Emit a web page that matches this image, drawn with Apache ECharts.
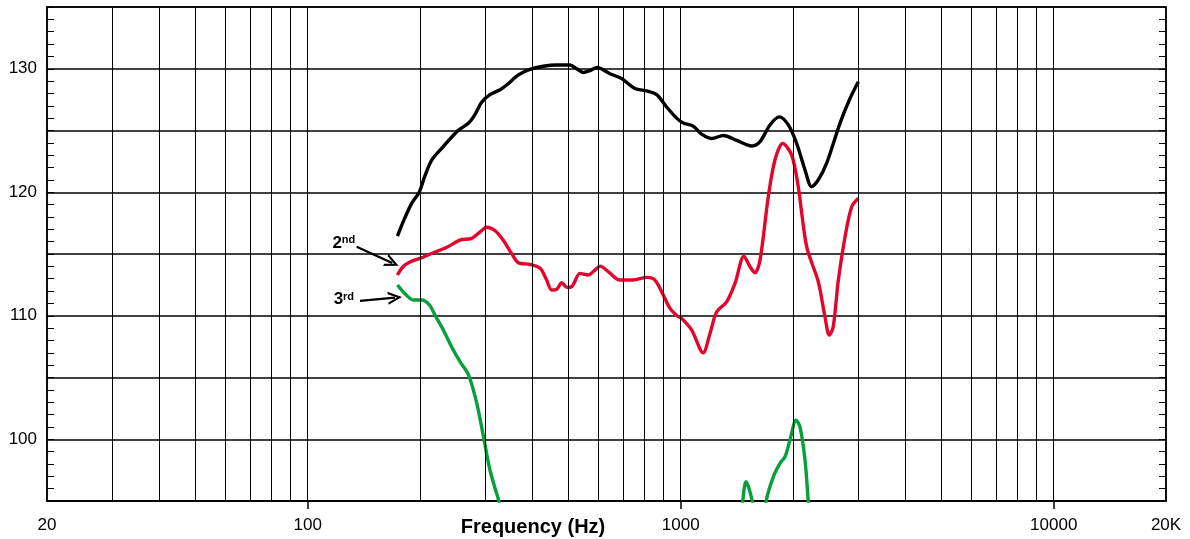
<!DOCTYPE html>
<html>
<head>
<meta charset="utf-8">
<script src="https://cdn.jsdelivr.net/npm/echarts@6/dist/echarts.min.js"></script>
<style>
html,body{margin:0;padding:0;background:#fff;}
#chart{width:1190px;height:539px;}
</style>
</head>
<body>
<div id="chart"></div>
<script>
// ---- data ----
const xTickLabels = [20, 100, 1000, 10000, 20000];
const xDecadeTicks = [100, 1000, 10000];
const xGridFreqs = [30, 40, 50, 60, 70, 80, 90, 100, 200, 300, 400, 500, 600, 700, 800, 900, 1000,
  2000, 3000, 4000, 5000, 6000, 7000, 8000, 9000, 10000];
const yTickLabels = [100, 110, 120, 130];

const fundFreq = [174, 182, 190, 199, 206, 215, 231, 253, 270, 281, 293, 308, 328, 342, 367, 394, 428, 465, 505, 526, 548, 571, 597, 646, 695, 754, 811, 862, 917, 975, 1016, 1081, 1138, 1211, 1301, 1413, 1551, 1632, 1735, 1838, 1943, 2046, 2154, 2244, 2338, 2462, 2674, 2844, 2994];
const fundDb = [116.45, 117.9, 119.1, 120.0, 121.3, 122.6, 123.7, 125.0, 125.6, 126.3, 127.3, 127.9, 128.3, 128.7, 129.5, 129.95, 130.2, 130.3, 130.3, 130.0, 129.7, 129.85, 130.1, 129.6, 129.2, 128.4, 128.2, 127.9, 126.9, 126.0, 125.6, 125.35, 124.7, 124.35, 124.6, 124.2, 123.75, 124.1, 125.45, 126.1, 125.45, 123.95, 121.8, 120.45, 121.0, 122.35, 125.6, 127.6, 128.95];

const h2Freq = [174, 180, 188, 200, 217, 236, 256, 275, 290, 302, 318, 334, 352, 367, 394, 420, 437, 451, 465, 480, 495, 510, 537, 565, 589, 608, 640, 687, 746, 811, 853, 898, 936, 985, 1006, 1070, 1149, 1198, 1249, 1328, 1398, 1478, 1534, 1582, 1632, 1717, 1789, 1877, 1984, 2066, 2176, 2338, 2436, 2502, 2564, 2646, 2758, 2874, 2994];
const h2Db = [113.3, 113.97, 114.35, 114.65, 115.1, 115.54, 116.13, 116.27, 116.8, 117.16, 116.88, 116.13, 115.05, 114.29, 114.16, 113.84, 112.89, 112.08, 112.14, 112.67, 112.3, 112.35, 113.43, 113.3, 113.7, 114.02, 113.56, 112.89, 112.89, 113.11, 112.89, 111.68, 110.6, 109.92, 109.79, 108.84, 107.0, 108.57, 110.32, 111.13, 112.62, 114.83, 113.97, 113.48, 114.51, 119.64, 122.61, 123.96, 123.01, 120.45, 115.59, 112.75, 109.92, 108.44, 109.11, 112.89, 116.4, 118.83, 119.51];

const h3FreqA = [174, 182, 192, 202, 212, 220, 231, 243, 256, 270, 284, 296, 308, 326, 345];
const h3DbA = [112.49, 111.81, 111.27, 111.27, 110.87, 109.98, 108.84, 107.49, 106.28, 105.2, 102.91, 100.2, 97.51, 94.94, 92.5];
const h3FreqB = [1440, 1466, 1496, 1556, 1580];
const h3DbB = [92.5, 94.94, 96.56, 94.94, 92.5];
const h3FreqC = [1670, 1693, 1771, 1846, 1904, 1963, 2038, 2088, 2154, 2198, 2230];
const h3DbC = [92.5, 94.94, 96.96, 98.05, 98.58, 99.94, 101.55, 101.01, 98.32, 94.94, 92.5];

// annotation anchors [freq, dB]
const label2nd = [125, 115.9];
const label3rd = [125, 111.3];
const arrow2nd = [[135.3, 115.59], [168.5, 114.28]];
const arrow3rd = [[138.1, 111.21], [171.4, 111.46]];

// ---- build ----
const zip = (f, d) => f.map((v, i) => [v, d[i]]);
const h3Data = zip(h3FreqA, h3DbA).concat([[800, '-']], zip(h3FreqB, h3DbB), [[1620, '-']], zip(h3FreqC, h3DbC));

const FONT = "'Liberation Sans', Arial, sans-serif";
const chart = echarts.init(document.getElementById('chart'), null, {renderer: 'canvas'});

const chevron = 'path://M10,0 L20,20 L16.5,20 L10,7 L3.5,20 L0,20 Z';

chart.setOption({
  animation: false,
  backgroundColor: '#fff',
  grid: {left: 47, right: 24, top: 7, bottom: 38, containLabel: false, outerBoundsMode: 'none',
    show: true, borderColor: '#000', borderWidth: 1.5, backgroundColor: 'transparent'},
  xAxis: {
    type: 'log', logBase: 10, min: 20, max: 20000,
    axisLine: {show: true, lineStyle: {color: '#000', width: 1.5}},
    axisTick: {show: true, customValues: xDecadeTicks, length: 8, lineStyle: {color: '#000', width: 1.5}},
    axisLabel: {customValues: xTickLabels, color: '#000', fontFamily: FONT, fontSize: 17, margin: 16,
      formatter: v => { const r = Math.round(v); return r === 20000 ? '20K' : String(r); }},
    splitLine: {show: false},
    minorTick: {show: false}
  },
  yAxis: [{
    type: 'value', min: 95, max: 135, interval: 5, position: 'left',
    name: 'dB SPL', nameLocation: 'middle', nameGap: 30, nameRotate: 90,
    nameTextStyle: {fontFamily: FONT, fontWeight: 'bold', fontSize: 20, color: '#000'},
    axisLine: {show: true, lineStyle: {color: '#000', width: 1.5}},
    axisTick: {show: true, inside: true, length: 7, lineStyle: {color: '#000', width: 1}},
    minorTick: {show: true, splitNumber: 5, length: 7, lineStyle: {color: '#000', width: 1}},
    axisLabel: {color: '#000', fontFamily: FONT, fontSize: 17, margin: 10,
      formatter: v => (yTickLabels.indexOf(v) >= 0 ? String(v) : '')},
    splitLine: {show: true, lineStyle: {color: '#000', width: 1.5}}
  }, {
    type: 'value', min: 95, max: 135, interval: 5, position: 'right',
    axisLine: {show: true, lineStyle: {color: '#000', width: 1.5}},
    axisTick: {show: true, inside: true, length: 7, lineStyle: {color: '#000', width: 1}},
    minorTick: {show: true, splitNumber: 5, length: 7, lineStyle: {color: '#000', width: 1}},
    axisLabel: {show: false},
    splitLine: {show: false}
  }],
  graphic: [{
    type: 'text', x: 533, y: 527,
    style: {text: 'Frequency (Hz)', font: "bold 20px 'Liberation Sans', Arial, sans-serif", fill: '#000', textAlign: 'center', textVerticalAlign: 'middle'}
  }],
  series: [
    {
      name: 'grid', type: 'line', z: 1, data: [], showSymbol: false, silent: true,
      markLine: {
        silent: true, symbol: ['none', 'none'], label: {show: false},
        lineStyle: {color: '#000', width: 1, type: 'solid'},
        data: xGridFreqs.map(f => ({xAxis: f}))
      }
    },
    {
      name: 'annot', type: 'line', z: 4, data: [], showSymbol: false, silent: true,
      markLine: {
        silent: true, symbol: ['none', chevron], symbolSize: [13, 14], label: {show: false},
        lineStyle: {color: '#000', width: 2.2, type: 'solid'},
        itemStyle: {color: '#000'},
        data: [
          [{coord: arrow2nd[0]}, {coord: arrow2nd[1]}],
          [{coord: arrow3rd[0]}, {coord: arrow3rd[1]}]
        ]
      },
      markPoint: {
        silent: true, symbol: 'rect', symbolSize: 1, itemStyle: {color: 'rgba(0,0,0,0)'},
        label: {show: true, position: 'inside', color: '#000',
          rich: {
            a: {fontFamily: FONT, fontWeight: 'bold', fontSize: 17, color: '#000'},
            b: {fontFamily: FONT, fontWeight: 'bold', fontSize: 11, color: '#000', verticalAlign: 'top'}
          }},
        data: [
          {coord: label2nd, label: {formatter: '{a|2}{b|nd}'}},
          {coord: label3rd, label: {formatter: '{a|3}{b|rd}'}}
        ]
      }
    },
    {name: 'Fundamental', type: 'line', z: 3, smooth: 0.3, showSymbol: false, data: zip(fundFreq, fundDb), lineStyle: {color: '#000', width: 3.4}, itemStyle: {color: '#000'}},
    {name: '2nd', type: 'line', z: 3, smooth: 0.3, showSymbol: false, data: zip(h2Freq, h2Db), lineStyle: {color: '#e2062c', width: 3.4}, itemStyle: {color: '#e2062c'}},
    {name: '3rd', type: 'line', z: 3, smooth: 0.3, showSymbol: false, connectNulls: false, clip: true, data: h3Data, lineStyle: {color: '#05a03c', width: 3.4}, itemStyle: {color: '#05a03c'}}
  ]
});
</script>
</body>
</html>
